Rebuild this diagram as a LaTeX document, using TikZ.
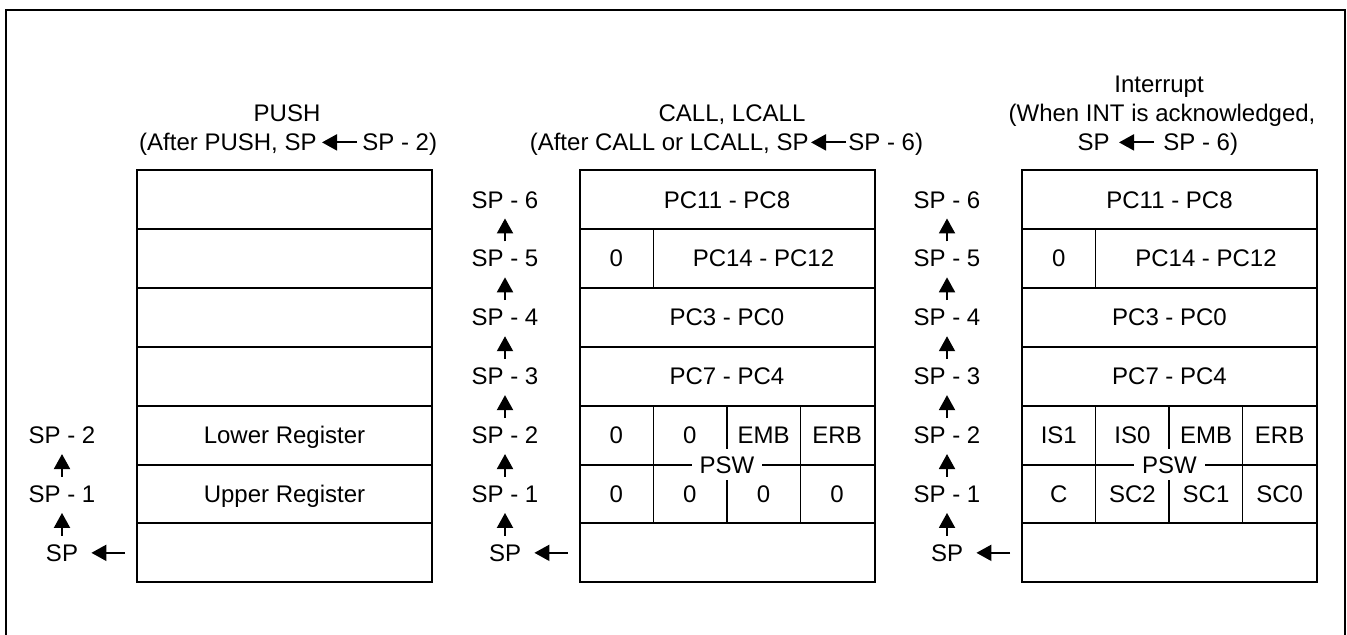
\documentclass[tikz,border=0pt]{standalone}
\usepackage{fontspec}
\setmainfont{Liberation Sans}
\usetikzlibrary{positioning,arrows.meta}

\begin{document}
\begin{tikzpicture}
 [x=0.5pt,y=-0.5pt,
  font=\fontsize{12}{14}\selectfont,
  slot/.style={draw,line width=1pt,minimum width=147.5pt,minimum height=29.45pt,inner sep=0pt,outer sep=0pt},
  txt/.style={inner sep=0pt,text height=8.6pt,text depth=0pt},
  bit/.style={txt,minimum width=36.8pt,minimum height=29.45pt,outer sep=0pt},
  wide/.style={bit,minimum width=110.4pt},
  rule/.style={line width=0.6pt},
  head/.style={-{Triangle[length=7.5pt,width=8pt]},line width=1pt},
  climb/.style={head,shorten <=4pt,shorten >=5pt},
  point/.style={head,shorten <=6pt,shorten >=6.5pt}]

 \useasboundingbox (0,0) rectangle (1347,635);
 \draw[line width=0.8pt] (6,640) -- (6,10) -- (1345,10) -- (1345,640);

 % the three stacks, seven bytes each
 \foreach \s/\x in {p/284.5,c/727,i/1169.5}
  \foreach \r in {1,...,7}
   \node[slot] (\s\r) at (\x,{170+58.9*(\r-0.5)}) {};

 % headings
 \node[txt,anchor=base] (p-head) at (287,122) {PUSH};
 \node[txt,anchor=east] (p-from) at (317,142.4) {(After PUSH, SP};
 \node[txt,anchor=west] (p-to) at (362,142.4) {SP - 2)};
 \draw[head,shorten <=2.5pt,shorten >=2.5pt] (p-to) -- (p-from);

 \node[txt,anchor=base] (c-head) at (732,122) {CALL, LCALL};
 \node[txt,anchor=east] (c-from) at (809,142.4) {(After CALL or LCALL, SP};
 \node[txt,anchor=west] (c-to) at (848,142.4) {SP - 6)};
 \draw[head,shorten <=1pt,shorten >=1pt] (c-to) -- (c-from);

 \node[txt,anchor=base] (i-head) at (1159,93) {Interrupt};
 \node[txt,anchor=base] (i-when) at (1162,122) {(When INT is acknowledged,};
 \node[txt,anchor=east] (i-from) at (1110,142.4) {SP};
 \node[txt,anchor=west] (i-to) at (1163,142.4) {SP - 6)};
 \draw[head,shorten <=4.5pt,shorten >=4.5pt] (i-to) -- (i-from);

 % PUSH stack
 \node[txt] (p5t) at (p5) {Lower Register};
 \node[txt] (p6t) at (p6) {Upper Register};
 \node[txt] (p-sp2) at (62,{170+58.9*4.5}) {SP - 2};
 \node[txt] (p-sp1) at (62,{170+58.9*5.5}) {SP - 1};
 \node[txt] (p-sp0) at (62,{170+58.9*6.5}) {SP};
 \draw[climb] (p-sp1) -- (p-sp2);
 \draw[climb] (p-sp0) -- (p-sp1);
 \draw[point] (p7) -- (p-sp0);

 % CALL and interrupt stacks
 \foreach \s/\x/\a/\b/\c/\d/\e/\f/\g/\h in
   {c/505/0/0/EMB/ERB/0/0/0/0, i/947/IS1/IS0/EMB/ERB/C/SC2/SC1/SC0} {
  \node[txt] (\s1t) at (\s1) {PC11 - PC8};
  \node[txt] (\s3t) at (\s3) {PC3 - PC0};
  \node[txt] (\s4t) at (\s4) {PC7 - PC4};

  \node[bit,anchor=west] (\s2a) at (\s2.west) {0};
  \node[wide,right=0pt of \s2a] (\s2b) {PC14 - PC12};
  \draw[rule] (\s2a.north east) -- (\s2a.south east);

  \node[bit,anchor=west] (\s5a) at (\s5.west) {\a};
  \node[bit,right=0pt of \s5a] (\s5b) {\b};
  \node[bit,right=0pt of \s5b] (\s5c) {\c};
  \node[bit,right=0pt of \s5c] (\s5d) {\d};
  \node[bit,anchor=west] (\s6a) at (\s6.west) {\e};
  \node[bit,right=0pt of \s6a] (\s6b) {\f};
  \node[bit,right=0pt of \s6b] (\s6c) {\g};
  \node[bit,right=0pt of \s6c] (\s6d) {\h};
  \draw[rule] (\s5a.north east) -- (\s6a.south east);
  \draw[rule] (\s5c.north east) -- (\s6c.south east);
  \draw[rule,line width=0.9pt] (\s5b.north east) -- (\s6b.south east);
  \node[txt,fill=white,inner xsep=4pt,inner ysep=3.6pt] (\s-psw) at (\s5.south) {PSW};

  % stack pointer labels
  \foreach \r/\k in {1/6,2/5,3/4,4/3,5/2,6/1}
   \node[txt] (\s-sp\k) at (\x,{170+58.9*(\r-0.5)}) {SP - \k};
  \node[txt] (\s-sp0) at (\x,{170+58.9*6.5}) {SP};
  \foreach \k [evaluate=\k as \j using int(\k+1)] in {0,...,5}
   \draw[climb] (\s-sp\k) -- (\s-sp\j);
  \draw[point] (\s7) -- (\s-sp0);
 }
\end{tikzpicture}
\end{document}
